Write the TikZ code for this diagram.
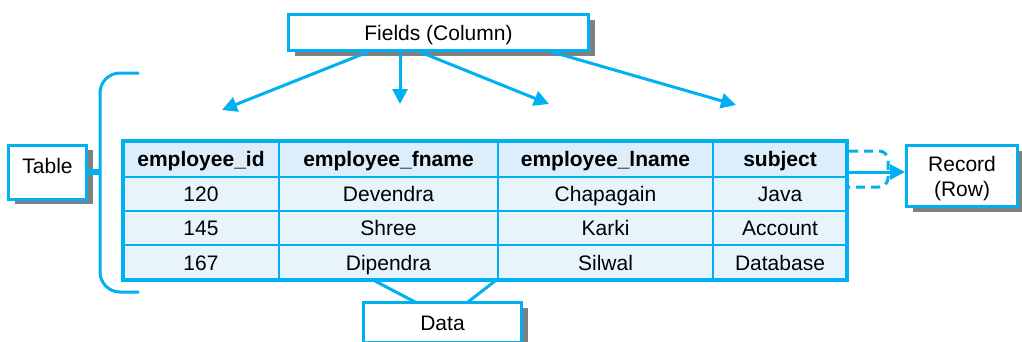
\documentclass[tikz,border=0pt]{standalone}
\usepackage{fontspec}
\setmainfont{Liberation Sans}
\usetikzlibrary{arrows.meta,shadows}
\definecolor{cy}{HTML}{00B0F0}
\definecolor{cellfill}{HTML}{E8F4FC}
\definecolor{headfill}{HTML}{DCEEFB}
\begin{document}
\begin{tikzpicture}[x=1pt,y=-1pt,
  lbl/.style={draw=cy, line width=3pt, fill=white, inner sep=0pt, font=\fontsize{21}{25}\selectfont, align=center,
    drop shadow={shadow xshift=6pt, shadow yshift=-5pt, fill=black!50, opacity=1}},
  conn/.style={draw=cy, line width=3pt},
  arr/.style={conn, -{Triangle[length=15pt,width=15pt]}},
  cell/.style={font=\fontsize{21}{25}\selectfont, inner sep=0pt, text height=15pt, text depth=0pt},
  head/.style={font=\fontsize{21}{25}\selectfont\bfseries, inner sep=0pt, text height=15pt, text depth=0pt},
  grid/.style={draw=cy, line width=2.5pt}]
\useasboundingbox (0,0) rectangle (1022,341);

% label boxes
\node[lbl, minimum width=300pt, minimum height=36pt, text height=15pt, text depth=0pt] (fields) at (438.5,32.5) {Fields (Column)};
\node[lbl, minimum width=78pt, minimum height=54pt, text height=15pt, text depth=12pt] (table) at (47.5,172) {Table};
\node[lbl, minimum width=111pt, minimum height=61pt, text depth=0pt] (record) at (962,176) {Record\\(Row)};
\node[lbl, minimum width=158pt, minimum height=40pt, text height=15pt, text depth=0pt] (data) at (442.5,322.5) {Data};

% table
\fill[headfill] (123,141) rectangle (847,177);
\fill[cellfill] (123,177) rectangle (847,280);
\draw[grid] (123,177) -- (847,177) (123,211) -- (847,211) (123,245) -- (847,245)
            (279,141) -- (279,280) (498,141) -- (498,280) (713,141) -- (713,280);
\draw[draw=cy, line width=4pt] (123,141) rectangle (847,280);

\node[head] (h1) at (201,159) {employee\_id};
\node[head] (h2) at (388.5,159) {employee\_fname};
\node[head] (h3) at (605.5,159) {employee\_lname};
\node[head] (h4) at (780,159) {subject};

\node[cell] (a1) at (201,194) {120};
\node[cell] (a2) at (388.5,194) {Devendra};
\node[cell] (a3) at (605.5,194) {Chapagain};
\node[cell] (a4) at (780,194) {Java};
\node[cell] (b1) at (201,228) {145};
\node[cell] (b2) at (388.5,228) {Shree};
\node[cell] (b3) at (605.5,228) {Karki};
\node[cell] (b4) at (780,228) {Account};
\node[cell] (c1) at (201,262.5) {167};
\node[cell] (c2) at (388.5,262.5) {Dipendra};
\node[cell] (c3) at (605.5,262.5) {Silwal};
\node[cell] (c4) at (780,262.5) {Database};

% coordinates
\coordinate (f1) at (368,52);
\coordinate (f2) at (400,52);
\coordinate (f3) at (420,52);
\coordinate (f4) at (552,52);
\coordinate (t1) at (222,110);
\coordinate (t2) at (400,104);
\coordinate (t3) at (549,104);
\coordinate (t4) at (736,105);
\coordinate (braceTop) at (139,73);
\coordinate (braceBot) at (139,292);
\coordinate (braceMid) at (100,172);
\coordinate (tblR) at (849,172);
\coordinate (dTop) at (849,151);
\coordinate (dBot) at (849,187);
\coordinate (dl1) at (375,281);
\coordinate (dl2) at (495,281);
\coordinate (dd1) at (415,302);
\coordinate (dd2) at (468,302);

% field arrows
\draw[arr] (f1) -- (t1);
\draw[arr] (f2) -- (t2);
\draw[arr] (f3) -- (t3);
\draw[arr] (f4) -- (t4);

% brace
\draw[conn, rounded corners=20pt] (braceTop) -- (100,73) -- (100,292) -- (braceBot);
\draw[draw=cy, line width=6pt] (table.east) -- (braceMid);

% record bracket and arrow
\draw[draw=cy, line width=3pt, dash pattern=on 9pt off 6pt, rounded corners=9pt] (dTop) -- (888,151) -- (888,187) -- (dBot);
\draw[arr] (tblR) -- (record.west |- tblR);

% data lines
\draw[conn] (dl1) -- (dd1);
\draw[conn] (dl2) -- (dd2);
\end{tikzpicture}
\end{document}
